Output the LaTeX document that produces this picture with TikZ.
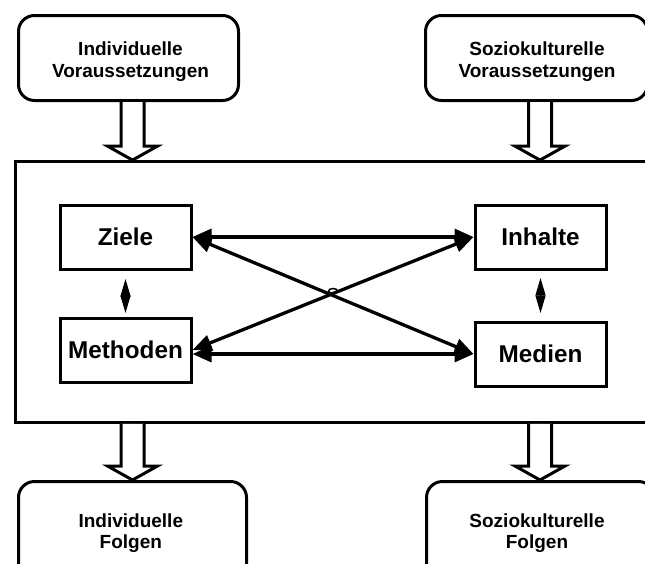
\documentclass[tikz,border=0pt]{standalone}
\usepackage{fontspec}
\setmainfont{Liberation Sans}
\usetikzlibrary{arrows.meta,calc}

% hollow block arrow: x position, start node anchor, target node anchor
\newcommand\hollowarrow[3]{%
  \draw[hollow] let \p1=(#2), \p2=(#3) in
    (#1pt-11.5pt,\y1) -- (#1pt-11.5pt,\y2+14pt) -- (#1pt-25pt,\y2+14pt)
    -- (#1pt,\y2) -- (#1pt+25pt,\y2+14pt) -- (#1pt+11.5pt,\y2+14pt)
    -- (#1pt+11.5pt,\y1);
}

\begin{document}
\begin{tikzpicture}[x=1pt,y=-1pt,
  roundbox/.style={draw, line width=3pt, rounded corners=16pt, inner sep=0pt},
  mainbox/.style={draw, line width=2.8pt, inner sep=0pt},
  inbox/.style={draw, line width=3pt, inner sep=0pt, minimum width=131pt,
    minimum height=64pt, font=\bfseries\fontsize{24.3pt}{28pt}\selectfont},
  toptext/.style={align=center, inner sep=0pt, font=\bfseries\fontsize{19pt}{22pt}\selectfont},
  bottext/.style={align=center, inner sep=0pt, font=\bfseries\fontsize{19pt}{21pt}\selectfont},
  hollow/.style={draw, line width=3pt, line join=miter, fill=white},
  link/.style={line width=3.3pt, {Triangle[length=19pt,width=16pt]}-{Triangle[length=19pt,width=16pt]}},
  pair/.style={line width=1pt, {Triangle[length=17.5pt,width=10pt]}-{Triangle[length=17.5pt,width=10pt]}}
]
\useasboundingbox (0,0) rectangle (645,563);
\clip (0,0) rectangle (645,563);

% preconditions
\node[roundbox, minimum width=220pt, minimum height=85pt] (IV) at (128.5,58) {};
\node[toptext] (IVt) at (130.5,62) {Individuelle\\Voraussetzungen};
\node[roundbox, minimum width=222pt, minimum height=85pt] (SV) at (536.5,58) {};
\node[toptext] (SVt) at (537,62) {Soziokulturelle\\Voraussetzungen};

% teaching frame
\node[mainbox, minimum width=636.5pt, minimum height=261pt] (U) at (333.75,292) {};

% didactic elements
\node[inbox] (Z) at (125.5,237) {Ziele};
\node[inbox] (M) at (125.5,350) {Methoden};
\node[inbox] (I) at (540.5,237) {Inhalte};
\node[inbox] (Me) at (540.5,354) {Medien};

% consequences
\node[roundbox, minimum width=228pt, minimum height=150pt] (IF) at (132.5,556.5) {};
\node[bottext] (IFt) at (130.8,533) {Individuelle\\Folgen};
\node[roundbox, minimum width=228pt, minimum height=150pt] (SF) at (540.5,556.5) {};
\node[bottext] (SFt) at (537,533) {Soziokulturelle\\Folgen};

% block arrows
\hollowarrow{132.5}{IV.south}{U.north}
\hollowarrow{540}{SV.south}{U.north}
\hollowarrow{132.5}{U.south}{IF.north}
\hollowarrow{540}{U.south}{SF.north}

% relations between the elements
\draw[link] (Z.east) -- (I.west);
\draw[link] (M.east |- Me.west) -- (Me.west);
\draw[link] (Z.east) -- (Me.west);
\draw[link] (M.east) -- (I.west);
\draw[line width=1.5pt] (333,291) ellipse [x radius=4.5, y radius=2.5];

\draw[pair, shorten <=8.5pt, shorten >=3.5pt] (Z.south) -- (M.north);
\draw[pair, shorten <=7.5pt, shorten >=7.5pt] (I.south) -- (Me.north);
\end{tikzpicture}
\end{document}
